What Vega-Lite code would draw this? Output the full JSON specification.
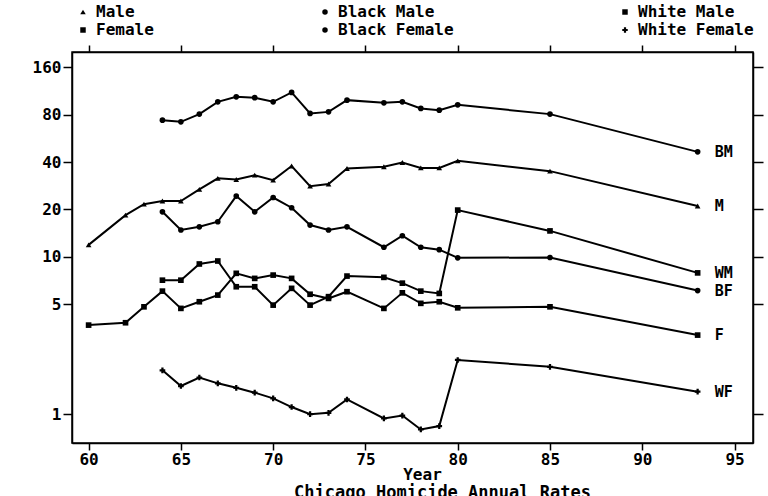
{
  "$schema": "https://vega.github.io/schema/vega-lite/v6.json",
  "width": 681,
  "height": 391,
  "autosize": "none",
  "padding": {"left": 72, "top": 52, "right": 15, "bottom": 53},
  "background": "white",
  "config": {
    "view": {"stroke": "black", "strokeWidth": 1.5},
    "font": "DejaVu Sans Mono",
    "axis": {
      "domainColor": "black", "domainWidth": 1.5, "tickColor": "black", "tickWidth": 1.5,
      "labelColor": "black", "labelFont": "DejaVu Sans Mono", "labelFontSize": 16, "labelFontWeight": "bold",
      "titleColor": "black", "titleFont": "DejaVu Sans Mono", "titleFontSize": 16, "titleFontWeight": "bold",
      "grid": false
    }
  },
  "title": {"text": "Chicago Homicide Annual Rates", "orient": "bottom", "anchor": "middle", "fontSize": 17, "font": "DejaVu Sans Mono", "fontWeight": "bold", "color": "black", "offset": 3, "dx": 30},
  "datasets": {
    "names": [
      {"g": "Male", "abbr": "M"}, {"g": "Female", "abbr": "F"},
      {"g": "Black Male", "abbr": "BM"}, {"g": "Black Female", "abbr": "BF"},
      {"g": "White Male", "abbr": "WM"}, {"g": "White Female", "abbr": "WF"}
    ],
    "rates": [
      {"g": "Male", "year": 60, "v": 11.9}, {"g": "Male", "year": 62, "v": 18.4}, {"g": "Male", "year": 63, "v": 21.6},
      {"g": "Male", "year": 64, "v": 22.6}, {"g": "Male", "year": 65, "v": 22.6}, {"g": "Male", "year": 66, "v": 26.8},
      {"g": "Male", "year": 67, "v": 31.5}, {"g": "Male", "year": 68, "v": 31.0}, {"g": "Male", "year": 69, "v": 33.0},
      {"g": "Male", "year": 70, "v": 30.7}, {"g": "Male", "year": 71, "v": 37.7}, {"g": "Male", "year": 72, "v": 28.1},
      {"g": "Male", "year": 73, "v": 29.0}, {"g": "Male", "year": 74, "v": 36.4}, {"g": "Male", "year": 76, "v": 37.3},
      {"g": "Male", "year": 77, "v": 39.7}, {"g": "Male", "year": 78, "v": 36.7}, {"g": "Male", "year": 79, "v": 36.7},
      {"g": "Male", "year": 80, "v": 40.7}, {"g": "Male", "year": 85, "v": 35.0}, {"g": "Male", "year": 93, "v": 21.0},

      {"g": "Female", "year": 60, "v": 3.68}, {"g": "Female", "year": 62, "v": 3.81}, {"g": "Female", "year": 63, "v": 4.81},
      {"g": "Female", "year": 64, "v": 6.05}, {"g": "Female", "year": 65, "v": 4.70}, {"g": "Female", "year": 66, "v": 5.18},
      {"g": "Female", "year": 67, "v": 5.71}, {"g": "Female", "year": 68, "v": 7.85}, {"g": "Female", "year": 69, "v": 7.29},
      {"g": "Female", "year": 70, "v": 7.65}, {"g": "Female", "year": 71, "v": 7.29}, {"g": "Female", "year": 72, "v": 5.78},
      {"g": "Female", "year": 73, "v": 5.44}, {"g": "Female", "year": 74, "v": 6.0}, {"g": "Female", "year": 76, "v": 4.70},
      {"g": "Female", "year": 77, "v": 5.9}, {"g": "Female", "year": 78, "v": 5.06}, {"g": "Female", "year": 79, "v": 5.18},
      {"g": "Female", "year": 80, "v": 4.74}, {"g": "Female", "year": 85, "v": 4.81}, {"g": "Female", "year": 93, "v": 3.18},

      {"g": "Black Male", "year": 64, "v": 73.8}, {"g": "Black Male", "year": 65, "v": 72.0}, {"g": "Black Male", "year": 66, "v": 80.6},
      {"g": "Black Male", "year": 67, "v": 96.5}, {"g": "Black Male", "year": 68, "v": 103.8}, {"g": "Black Male", "year": 69, "v": 102.5},
      {"g": "Black Male", "year": 70, "v": 96.5}, {"g": "Black Male", "year": 71, "v": 110.7}, {"g": "Black Male", "year": 72, "v": 81.4},
      {"g": "Black Male", "year": 73, "v": 83.3}, {"g": "Black Male", "year": 74, "v": 98.9}, {"g": "Black Male", "year": 76, "v": 95.1},
      {"g": "Black Male", "year": 77, "v": 96.5}, {"g": "Black Male", "year": 78, "v": 87.6}, {"g": "Black Male", "year": 79, "v": 85.4},
      {"g": "Black Male", "year": 80, "v": 92.3}, {"g": "Black Male", "year": 85, "v": 80.6}, {"g": "Black Male", "year": 93, "v": 46.4},

      {"g": "Black Female", "year": 64, "v": 19.3}, {"g": "Black Female", "year": 65, "v": 14.8}, {"g": "Black Female", "year": 66, "v": 15.5},
      {"g": "Black Female", "year": 67, "v": 16.7}, {"g": "Black Female", "year": 68, "v": 24.3}, {"g": "Black Female", "year": 69, "v": 19.3},
      {"g": "Black Female", "year": 70, "v": 23.8}, {"g": "Black Female", "year": 71, "v": 20.5}, {"g": "Black Female", "year": 72, "v": 15.9},
      {"g": "Black Female", "year": 73, "v": 14.8}, {"g": "Black Female", "year": 74, "v": 15.5}, {"g": "Black Female", "year": 76, "v": 11.5},
      {"g": "Black Female", "year": 77, "v": 13.6}, {"g": "Black Female", "year": 78, "v": 11.5}, {"g": "Black Female", "year": 79, "v": 11.1},
      {"g": "Black Female", "year": 80, "v": 9.85}, {"g": "Black Female", "year": 85, "v": 9.9}, {"g": "Black Female", "year": 93, "v": 6.1},

      {"g": "White Male", "year": 64, "v": 7.1}, {"g": "White Male", "year": 65, "v": 7.1}, {"g": "White Male", "year": 66, "v": 9.0},
      {"g": "White Male", "year": 67, "v": 9.4}, {"g": "White Male", "year": 68, "v": 6.45}, {"g": "White Male", "year": 69, "v": 6.45},
      {"g": "White Male", "year": 70, "v": 4.93}, {"g": "White Male", "year": 71, "v": 6.3}, {"g": "White Male", "year": 72, "v": 4.93},
      {"g": "White Male", "year": 73, "v": 5.58}, {"g": "White Male", "year": 74, "v": 7.54}, {"g": "White Male", "year": 76, "v": 7.4},
      {"g": "White Male", "year": 77, "v": 6.8}, {"g": "White Male", "year": 78, "v": 6.05}, {"g": "White Male", "year": 79, "v": 5.85},
      {"g": "White Male", "year": 80, "v": 19.8}, {"g": "White Male", "year": 85, "v": 14.6}, {"g": "White Male", "year": 93, "v": 7.9},

      {"g": "White Female", "year": 64, "v": 1.90}, {"g": "White Female", "year": 65, "v": 1.51}, {"g": "White Female", "year": 66, "v": 1.71},
      {"g": "White Female", "year": 67, "v": 1.57}, {"g": "White Female", "year": 68, "v": 1.47}, {"g": "White Female", "year": 69, "v": 1.37},
      {"g": "White Female", "year": 70, "v": 1.26}, {"g": "White Female", "year": 71, "v": 1.11}, {"g": "White Female", "year": 72, "v": 1.0},
      {"g": "White Female", "year": 73, "v": 1.02}, {"g": "White Female", "year": 74, "v": 1.24}, {"g": "White Female", "year": 76, "v": 0.94},
      {"g": "White Female", "year": 77, "v": 0.98}, {"g": "White Female", "year": 78, "v": 0.80}, {"g": "White Female", "year": 79, "v": 0.84},
      {"g": "White Female", "year": 80, "v": 2.21}, {"g": "White Female", "year": 85, "v": 2.0}, {"g": "White Female", "year": 93, "v": 1.39}
    ]
  },
  "data": {"name": "rates"},
  "layer": [
    {
      "mark": {"type": "line", "color": "black", "strokeWidth": 2},
      "encoding": {
        "x": {"field": "year", "type": "quantitative", "scale": {"domain": [59.1, 96], "nice": false, "zero": false},
              "axis": {"orient": "bottom", "values": [60, 65, 70, 75, 80, 85, 90, 95], "tickSize": 7, "labelPadding": 1, "title": "Year", "titlePadding": -1, "titleX": 350}},
        "y": {"field": "v", "type": "quantitative", "scale": {"type": "log", "domain": [0.656, 200], "nice": false},
              "axis": {"orient": "left", "values": [1, 5, 10, 20, 40, 80, 160], "format": "d", "tickSize": 9, "labelPadding": 2, "title": null}},
        "detail": {"field": "g", "type": "nominal"}
      }
    },
    {
      "mark": {"type": "point", "filled": true, "color": "black", "size": 32, "opacity": 1},
      "encoding": {
        "x": {"field": "year", "type": "quantitative",
              "axis": {"orient": "top", "values": [60, 65, 70, 75, 80, 85, 90, 95], "tickSize": 7, "labels": false, "title": null}},
        "y": {"field": "v", "type": "quantitative",
              "axis": {"orient": "right", "values": [1, 5, 10, 20, 40, 80, 160], "tickSize": 10, "labels": false, "title": null}},
        "shape": {
          "field": "g", "type": "nominal",
          "scale": {"domain": ["Male", "Black Male", "White Male", "Female", "Black Female", "White Female"],
                    "range": ["triangle-up", "circle", "square", "square", "circle", "cross"]},
          "legend": {
            "orient": "none", "legendX": 3, "legendY": -48, "columns": 3, "direction": "horizontal",
            "title": null, "columnPadding": 163, "rowPadding": 2, "padding": 0,
            "labelFont": "DejaVu Sans Mono", "labelFontSize": 16, "labelFontWeight": "bold", "labelColor": "black",
            "labelOffset": 5, "symbolSize": 30, "symbolFillColor": "black", "symbolStrokeColor": "black", "symbolStrokeWidth": 1
          }
        }
      }
    },
    {
      "transform": [
        {"filter": "datum.year == 93"},
        {"lookup": "g", "from": {"data": {"name": "names"}, "key": "g", "fields": ["abbr"]}}
      ],
      "mark": {"type": "text", "align": "left", "baseline": "middle", "dx": 17, "fontSize": 15, "fontWeight": "bold", "font": "DejaVu Sans Mono", "color": "black"},
      "encoding": {
        "x": {"field": "year", "type": "quantitative", "axis": null},
        "y": {"field": "v", "type": "quantitative", "axis": null},
        "text": {"field": "abbr", "type": "nominal"}
      }
    }
  ],
  "resolve": {"axis": {"x": "independent", "y": "independent"}}
}
